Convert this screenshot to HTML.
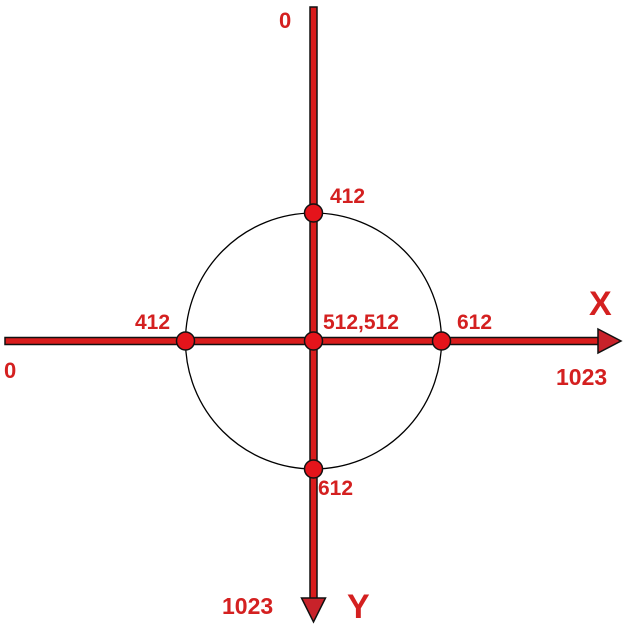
<!DOCTYPE html>
<html><head><meta charset="utf-8"><style>
html,body{margin:0;padding:0;background:#fff;}
svg{display:block;}
text{font-family:"Liberation Sans",sans-serif;font-weight:bold;fill:#d42020;}
</style></head><body>
<svg id="chart" width="624" height="625">
<g id="g-circle"></g>
<g id="g-axes"></g>
<g id="g-dots"></g>
<g id="g-labels"></g>
</svg>
<script>
const centerVal = 512;
const radius = 100;
const xVals = [412, 512, 612, 512, 512];
const yVals = [512, 512, 512, 412, 612];
const cx0 = 313.5, cy0 = 341, scale = 1.28;
function sx(v){return cx0 + (v - centerVal) * scale;}
function sy(v){return cy0 + (v - centerVal) * scale;}
const NS = "http://www.w3.org/2000/svg";
function mk(tag, attrs, parent){const e=document.createElementNS(NS,tag);for(const k in attrs)e.setAttribute(k,attrs[k]);parent.appendChild(e);return e;}
const gC=document.getElementById('g-circle'),gA=document.getElementById('g-axes'),gD=document.getElementById('g-dots'),gL=document.getElementById('g-labels');

const circ=mk('circle',{cx:sx(centerVal),cy:sy(centerVal),r:radius*scale,fill:'none',stroke:'#000','stroke-width':1.3},gC);



const xa=mk('rect',{x:5,y:cy0-3.5,width:595,height:7,fill:'#d91c1c',stroke:'#111','stroke-width':1.5},gA);


const xh=mk('polygon',{points:`598,${cy0-12} 621,${cy0} 598,${cy0+12}`,fill:'#c8222a',stroke:'#111','stroke-width':1.5},gA);


const ya=mk('rect',{x:cx0-3.5,y:7,width:7,height:592,fill:'#d91c1c',stroke:'#111','stroke-width':1.5},gA);


const yh=mk('polygon',{points:`${cx0-12},598 ${cx0+12},598 ${cx0},622`,fill:'#c8222a',stroke:'#111','stroke-width':1.5},gA);



for(let i=0;i<xVals.length;i++){
  const d=mk('circle',{cx:sx(xVals[i]),cy:sy(yVals[i]),r:9,fill:'#e5141b',stroke:'#111','stroke-width':1.5},gD);
  
  
}

const labels=[
 ['0',279,28,22,'y-axis-origin-label'],
 ['412',330,203,21,'y-412-label'],
 ['412',135,329,21,'x-412-label'],
 ['512,512',323,329,21,'center-label'],
 ['612',457,329,21,'x-612-label'],
 ['612',318,495,21,'y-612-label'],
 ['X',589,315,34,'x-axis-title'],
 ['1023',556,385,23,'x-axis-max-label'],
 ['0',4,378,22,'x-axis-origin-label'],
 ['1023',222,614,23,'y-axis-max-label'],
 ['Y',347,618,34,'y-axis-title']
];
for(const l of labels){
  const t=mk('text',{x:l[1],y:l[2],'font-size':l[3]},gL);
  t.textContent=l[0];
  
  
}
</script>
</body></html>
